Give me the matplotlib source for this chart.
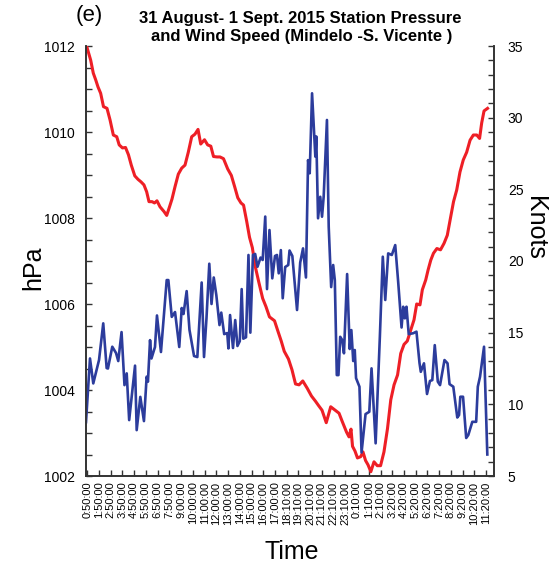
import matplotlib
matplotlib.use("Agg")
import matplotlib.pyplot as plt
from matplotlib.ticker import MultipleLocator, FixedLocator

plt.rcParams['font.family'] = ['Liberation Sans', 'DejaVu Sans']

time_labels = ["0:50:00", "1:50:00", "2:50:00", "3:50:00", "4:50:00", "5:50:00", "6:50:00",
               "7:50:00", "9:00:00", "10:00:00", "11:00:00", "12:00:00", "13:00:00", "14:00:00",
               "15:00:00", "16:00:00", "17:00:00", "18:10:00", "19:10:00", "20:10:00", "21:10:00",
               "22:10:00", "23:10:00", "0:10:00", "1:10:00", "2:10:00", "3:20:00", "4:20:00",
               "5:20:00", "6:20:00", "7:20:00", "8:20:00", "9:20:00", "10:20:00", "11:20:00"]

# position along the time axis (in label units) and station pressure (hPa)
pres_t = [-0.05, 0.29, 0.51, 0.72, 0.91, 1.14, 1.38, 1.68, 1.94, 2.22, 2.51, 2.72, 3.0, 3.26, 3.51,
          3.75, 4.05, 4.32, 4.58, 4.83, 5.06, 5.26, 5.52, 5.73, 5.94, 6.2, 6.54, 6.77, 7.01, 7.22,
          7.48, 7.76, 8.05, 8.33, 8.61, 8.9, 9.18, 9.44, 9.67, 9.99, 10.26, 10.53, 10.76, 11.06,
          11.31, 11.61, 11.97, 12.28, 12.56, 12.83, 13.1, 13.32, 13.59, 13.83, 14.07, 14.32, 14.61,
          14.95, 15.23, 15.53, 15.96, 16.26, 16.53, 16.79, 17.15, 17.45, 17.75, 18.05, 18.37, 18.75,
          19.11, 19.45, 19.71, 20.01, 20.37, 20.75, 21.13, 21.46, 21.73, 22.1, 22.31, 22.48, 22.61,
          22.82, 23.03, 23.31, 23.5, 23.72, 23.93, 24.17, 24.44, 24.72, 25.0, 25.29, 25.59, 25.87,
          26.15, 26.45, 26.72, 27.0, 27.28, 27.58, 27.85, 28.08, 28.36, 28.56, 28.85, 29.05, 29.28,
          29.51, 29.8, 30.11, 30.41, 30.69, 30.96, 31.22, 31.49, 31.77, 32.05, 32.34, 32.63, 32.91,
          33.2, 33.44, 33.62, 33.82, 34.12]
pressure = [1011.99, 1011.67, 1011.37, 1011.21, 1011.05, 1010.9, 1010.59, 1010.55, 1010.28, 1009.93,
            1009.89, 1009.70, 1009.63, 1009.64, 1009.47, 1009.23, 1008.98, 1008.90, 1008.84, 1008.77,
            1008.61, 1008.38, 1008.38, 1008.35, 1008.40, 1008.26, 1008.15, 1008.06, 1008.26, 1008.44,
            1008.73, 1009.02, 1009.16, 1009.23, 1009.53, 1009.89, 1009.95, 1010.06, 1009.72, 1009.82,
            1009.70, 1009.67, 1009.43, 1009.42, 1009.42, 1009.38, 1009.14, 1008.99, 1008.73, 1008.47,
            1008.35, 1008.30, 1007.92, 1007.55, 1007.31, 1006.87, 1006.52, 1006.13, 1005.94, 1005.70,
            1005.61, 1005.36, 1005.14, 1004.90, 1004.72, 1004.47, 1004.14, 1004.12, 1004.21, 1004.04,
            1003.86, 1003.74, 1003.64, 1003.53, 1003.24, 1003.61, 1003.53, 1003.46, 1003.27, 1003.02,
            1002.91, 1003.09, 1002.69, 1002.58, 1002.42, 1002.45, 1002.56, 1002.36, 1002.26, 1002.10,
            1002.33, 1002.24, 1002.24, 1002.56, 1003.10, 1003.77, 1004.12, 1004.35, 1004.85, 1005.06,
            1005.14, 1005.40, 1005.63, 1006.00, 1005.98, 1006.33, 1006.56, 1006.79, 1007.02, 1007.18,
            1007.29, 1007.26, 1007.41, 1007.60, 1008.0, 1008.38, 1008.65, 1009.07, 1009.35, 1009.53,
            1009.81, 1009.93, 1009.93, 1009.85, 1010.21, 1010.49, 1010.55]

# position along the time axis (in label units) and wind speed (knots)
wind_t = [-0.11, 0.23, 0.51, 1.0, 1.36, 1.65, 1.76, 2.13, 2.45, 2.64, 2.92, 3.17, 3.36, 3.57, 4.07,
          4.21, 4.52, 4.83, 5.06, 5.17, 5.35, 5.47, 5.77, 5.94, 6.28, 6.77, 6.91, 7.2, 7.48, 7.84,
          8.05, 8.2, 8.47, 8.71, 9.1, 9.38, 9.75, 9.95, 10.16, 10.4, 10.59, 10.78, 11.0, 11.27, 11.42,
          11.67, 11.93, 12.03, 12.17, 12.42, 12.61, 12.8, 13.0, 13.16, 13.3, 13.53, 13.74, 13.9,
          14.12, 14.31, 14.51, 14.77, 14.95, 15.17, 15.32, 15.53, 15.77, 16.0, 16.17, 16.32, 16.5,
          16.66, 16.87, 17.13, 17.24, 17.48, 17.68, 17.88, 18.15, 18.39, 18.64, 18.82, 18.96, 19.16,
          19.35, 19.44, 19.52, 19.67, 19.86, 20.01, 20.15, 20.43, 20.58, 20.79, 20.96, 21.1, 21.27,
          21.41, 21.56, 21.73, 21.88, 22.15, 22.37, 22.51, 22.67, 22.8, 22.91, 23.2, 23.38, 23.72,
          24.04, 24.23, 24.58, 24.94, 25.19, 25.4, 25.65, 25.96, 26.25, 26.5, 26.79, 26.93, 27.07,
          27.21, 27.4, 27.78, 28.06, 28.32, 28.43, 28.7, 28.96, 29.21, 29.41, 29.62, 29.88, 30.07,
          30.45, 30.71, 30.88, 31.2, 31.54, 31.69, 31.8, 32.03, 32.3, 32.48, 32.82, 33.15, 33.29,
          33.48, 33.82, 34.1]
wind = [8.76, 13.2, 11.46, 13.09, 15.65, 12.53, 12.5, 14.02, 13.58, 13.02, 15.04, 11.34, 12.16, 8.9,
        12.7, 8.2, 10.52, 8.83, 11.93, 11.58, 14.48, 13.2, 14.0, 16.2, 13.65, 18.67, 18.67, 16.1,
        16.44, 14.0, 16.72, 16.3, 17.9, 15.2, 13.37, 13.3, 18.5, 13.3, 16.0, 19.81, 17.0, 18.85,
        17.62, 15.53, 16.4, 14.9, 14.97, 13.9, 16.23, 13.93, 15.88, 14.07, 14.41, 18.04, 14.58,
        14.68, 20.42, 15.0, 20.42, 20.49, 19.6, 20.24, 20.07, 23.1, 18.04, 22.16, 18.79, 20.35,
        20.42, 19.14, 20.76, 17.4, 19.58, 19.72, 20.73, 20.35, 18.44, 16.58, 19.89, 20.88, 18.85,
        27.04, 26.12, 31.7, 28.69, 27.28, 28.69, 22.98, 24.48, 23.09, 24.48, 29.84, 22.39, 18.18,
        19.72, 18.67, 12.04, 12.04, 14.71, 14.49, 13.56, 19.09, 13.86, 15.18, 13.02, 13.79, 11.83,
        11.23, 6.64, 9.32, 9.48, 12.51, 7.28, 14.71, 20.3, 17.28, 20.53, 20.42, 21.11, 18.56, 15.36,
        16.81, 16.0, 16.81, 14.9, 14.96, 15.07, 12.88, 12.27, 12.86, 10.72, 11.63, 11.69, 14.13,
        11.58, 11.34, 13.09, 12.86, 11.41, 11.23, 9.08, 9.25, 10.53, 10.53, 7.65, 7.86, 8.78, 8.78,
        11.23, 11.93, 14.02, 6.5]

RED = '#ee1f26'
BLUE = '#2c3c9c'
SPINE = '#333333'

fig = plt.figure(figsize=(5.6, 5.85), dpi=100)
ax = fig.add_axes([86 / 560, 1 - 476 / 585, (494 - 86) / 560, (476 - 46) / 585])
ax2 = ax.twinx()

ax.plot(pres_t, pressure, color=RED, lw=2.2, solid_joinstyle='round')
ax2.plot(wind_t, wind, color=BLUE, lw=1.9, solid_joinstyle='round')

ax.set_xlim(-0.11, 34.67)
ax.set_ylim(1002, 1012)
ax2.set_ylim(5, 35)

ax.xaxis.set_major_locator(FixedLocator(list(range(len(time_labels)))))
ax.set_xticklabels(time_labels, rotation=90, fontsize=8)
ax.yaxis.set_major_locator(MultipleLocator(2))
ax.yaxis.set_minor_locator(MultipleLocator(0.5))
ax2.yaxis.set_major_locator(MultipleLocator(5))
ax2.yaxis.set_minor_locator(MultipleLocator(1))

for a in (ax, ax2):
    a.spines['top'].set_visible(False)
    for s in ('left', 'right', 'bottom'):
        a.spines[s].set_color(SPINE)
        a.spines[s].set_linewidth(1.2)
    a.tick_params(which='both', direction='in', length=4, width=1, color=SPINE)

ax.tick_params(axis='y', labelsize=10, pad=8)
ax.tick_params(axis='x', pad=4)
ax2.tick_params(axis='y', labelsize=10, pad=10)
ax.set_yticklabels([f"{int(v)}" for v in ax.get_yticks()])

fig.text(89 / 560, 1 - 15 / 585, "(e)", fontsize=16, ha='center', va='center')
fig.text(300 / 560, 1 - 18 / 585, "31 August- 1 Sept. 2015 Station Pressure",
         fontsize=12, fontweight='bold', ha='center', va='center')
fig.text(302 / 560, 1 - 36 / 585, "and Wind Speed (Mindelo -S. Vicente )",
         fontsize=12, fontweight='bold', ha='center', va='center')
fig.text(33 / 560, 1 - 268 / 585, "hPa", fontsize=18, rotation=90, ha='center', va='center')
fig.text(535 / 560, 1 - 228 / 585, "Knots", fontsize=18, rotation=-90, ha='center', va='center')
fig.text(292 / 560, 1 - 552 / 585, "Time", fontsize=18, ha='center', va='center')

fig.savefig("out.png", dpi=100)
